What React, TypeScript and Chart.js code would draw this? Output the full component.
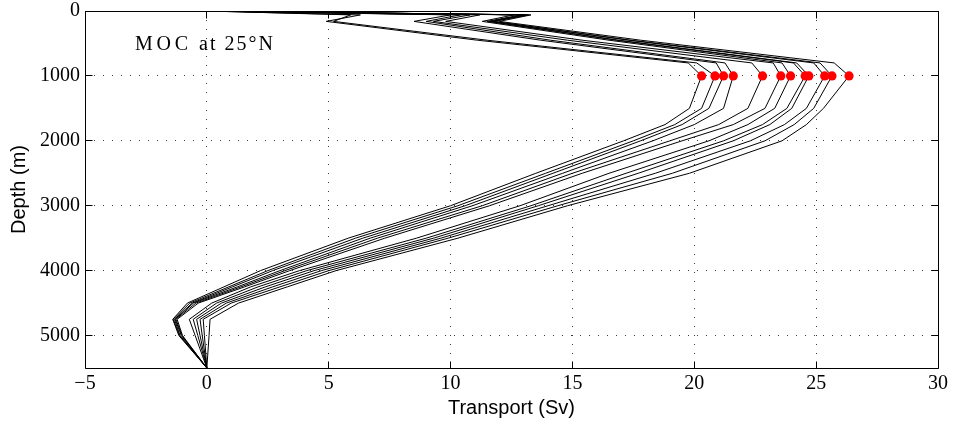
import { useEffect, useRef } from 'react';
import { Chart, registerables } from 'chart.js';

Chart.register(...registerables);

// Depth levels (m) shared by every profile
const DEPTHS = [0, 60, 160, 450, 800, 1000, 1500, 1750, 2000, 2500, 3000, 3500, 4000, 4250, 4500, 4750, 5000, 5500];

// Overturning transport (Sv) of each ensemble member at the depth levels above
const RUN_01 = [0, 6.3, 4.9, 11.1, 19.75, 20.3, 19.8, 18.8, 17.1, 13.5, 10.0, 5.8, 2.2, 0.7, -0.8, -1.4, -1.15, 0];
const RUN_02 = [0, 5.9, 5.2, 11.5, 20.1, 20.85, 20.3, 19.2, 17.5, 13.9, 10.3, 6.1, 2.5, 0.9, -0.7, -1.38, -1.12, 0];
const RUN_03 = [0, 10.0, 8.5, 13.7, 20.9, 21.2, 20.6, 19.5, 17.8, 14.2, 10.6, 6.4, 2.7, 1.05, -0.6, -1.33, -1.1, 0];
const RUN_04 = [0, 10.4, 9.0, 14.1, 21.26, 21.6, 21.2, 20.0, 18.3, 14.6, 10.9, 6.7, 3.0, 1.25, -0.55, -1.3, -1.05, 0];
const RUN_05 = [0, 10.8, 9.3, 14.8, 22.36, 22.8, 22.2, 21.0, 19.0, 15.0, 11.3, 7.0, 3.2, 1.4, -0.45, -1.27, -1.02, 0];
const RUN_06 = [0, 11.2, 9.8, 15.4, 23.24, 23.55, 22.9, 21.6, 19.5, 15.4, 11.6, 7.3, 3.4, 1.55, -0.35, -1.22, -1.0, 0];
const RUN_07 = [0, 12.6, 11.3, 16.5, 23.6, 23.95, 23.3, 22.2, 20.6, 16.5, 12.85, 8.6, 3.8, 1.8, 0.2, -0.72, -0.48, 0];
const RUN_08 = [0, 12.9, 11.5, 16.8, 24.07, 24.55, 23.8, 22.8, 21.2, 17.2, 13.3, 9.0, 4.1, 2.1, 0.4, -0.56, -0.37, 0];
const RUN_09 = [0, 13.0, 11.6, 16.9, 24.2, 24.7, 24.0, 23.1, 21.6, 17.7, 13.6, 9.3, 4.4, 2.4, 0.6, -0.42, -0.28, 0];
const RUN_10 = [0, 13.2, 11.8, 17.3, 24.9, 25.35, 24.6, 23.7, 22.3, 18.4, 14.0, 9.6, 4.7, 2.7, 0.8, -0.28, -0.19, 0];
const RUN_11 = [0, 13.1, 11.7, 17.4, 25.16, 25.65, 24.9, 24.1, 22.9, 19.1, 14.4, 9.9, 5.0, 3.0, 1.0, -0.15, -0.1, 0];
const RUN_12 = [0, 13.3, 12.0, 17.8, 25.74, 26.35, 25.3, 24.6, 23.6, 19.8, 14.8, 10.3, 5.3, 3.3, 1.3, 0.13, 0.09, 0];

const RUNS = [RUN_01, RUN_02, RUN_03, RUN_04, RUN_05, RUN_06, RUN_07, RUN_08, RUN_09, RUN_10, RUN_11, RUN_12];

// Depth at which the red markers are placed
const MARK_DEPTH = 1000;

const X_TICKS = [-5, 0, 5, 10, 15, 20, 25, 30];
const Y_TICKS = [0, 1000, 2000, 3000, 4000, 5000];
const X_MIN = -5;
const X_MAX = 30;
const Y_MIN = 0;
const Y_MAX = 5500;

const X_TITLE = 'Transport (Sv)';
const Y_TITLE = 'Depth (m)';
const ANNOTATION_WORDS = ['MOC', 'at 25°N'];

const SERIF = '"Liberation Serif", "Times New Roman", serif';
const SANS = '"Liberation Sans", Arial, sans-serif';

export default function App() {
  const ref = useRef<HTMLCanvasElement | null>(null);

  useEffect(() => {
    const canvas = ref.current;
    if (!canvas) return;
    const markIdx = DEPTHS.indexOf(MARK_DEPTH);

    const lineSets = RUNS.map((run) => ({
      data: run.map((v, i) => ({ x: v, y: DEPTHS[i] })),
      showLine: true,
      borderColor: '#000000',
      borderWidth: 1,
      pointRadius: 0,
      pointHoverRadius: 0,
      fill: false,
      tension: 0,
    }));

    const markSet = {
      data: RUNS.map((run) => ({ x: run[markIdx], y: MARK_DEPTH })),
      showLine: false,
      pointRadius: 4.6,
      pointHoverRadius: 4.6,
      backgroundColor: '#ff0000',
      borderColor: '#ff0000',
      borderWidth: 0,
    };

    const align = (p: number) => Math.round(p - 0.5) + 0.5;

    const framePlugin = {
      id: 'matlabFrame',
      afterDraw(chart: any) {
        const { ctx, chartArea, scales } = chart;
        const L = align(chartArea.left);
        const R = align(chartArea.right);
        const T = align(chartArea.top);
        const B = align(chartArea.bottom);
        ctx.save();
        ctx.strokeStyle = '#000000';
        ctx.lineWidth = 1;
        ctx.setLineDash([]);
        ctx.beginPath();
        ctx.rect(L, T, R - L, B - T);
        const tl = 7;
        X_TICKS.forEach((v) => {
          const px = align(scales.x.getPixelForValue(v));
          ctx.moveTo(px, B);
          ctx.lineTo(px, B - tl);
          ctx.moveTo(px, T);
          ctx.lineTo(px, T + tl);
        });
        Y_TICKS.forEach((v) => {
          const py = align(scales.y.getPixelForValue(v));
          ctx.moveTo(L, py);
          ctx.lineTo(L + tl, py);
          ctx.moveTo(R, py);
          ctx.lineTo(R - tl, py);
        });
        ctx.stroke();

        // annotation, fitted to the extents of each word group
        ctx.font = `20px ${SERIF}`;
        ctx.fillStyle = '#000000';
        ctx.textBaseline = 'alphabetic';
        ctx.textAlign = 'left';
        const spans = [
          [135, 188],
          [199, 273],
        ];
        ANNOTATION_WORDS.forEach((word, k) => {
          const [x0, x1] = spans[k];
          (ctx as any).letterSpacing = '0px';
          const w0 = ctx.measureText(word).width;
          const sp = Math.max(0, (x1 - x0 - w0) / Math.max(1, word.length - 1));
          (ctx as any).letterSpacing = `${sp}px`;
          ctx.fillText(word, x0, 50);
        });
        (ctx as any).letterSpacing = '0px';
        ctx.restore();
      },
    };

    const xTickFont = { family: SERIF, size: 20, lineHeight: 1 };
    const yTickFont = { family: SERIF, size: 20, lineHeight: 0.6 };
    const titleFont = { family: SANS, size: 20, lineHeight: 1.2 };

    const chart = new Chart(canvas, {
      type: 'scatter',
      data: { datasets: [markSet, ...lineSets] as any },
      options: {
        animation: false,
        responsive: true,
        maintainAspectRatio: false,
        events: [],
        layout: { padding: { top: 11, right: 16, left: 0, bottom: 0 } },
        plugins: {
          legend: { display: false },
          tooltip: { enabled: false },
          title: { display: false },
        },
        scales: {
          x: {
            type: 'linear',
            min: X_MIN,
            max: X_MAX,
            afterBuildTicks: (s: any) => {
              s.ticks = X_TICKS.map((v) => ({ value: v }));
            },
            afterFit: (s: any) => {
              s.height = 58;
            },
            ticks: {
              color: '#000000',
              font: xTickFont,
              padding: 6,
              autoSkip: false,
              maxRotation: 0,
              callback: (v: any) => String(v).replace('-', '\u2212'),
            },
            grid: { color: '#3a3a3a', lineWidth: 1, drawTicks: false },
            border: { display: false, dash: [1, 8] },
            title: {
              display: true,
              text: X_TITLE,
              color: '#000000',
              font: titleFont,
              padding: { top: 0, bottom: 6 },
            },
          },
          y: {
            type: 'linear',
            min: Y_MIN,
            max: Y_MAX,
            reverse: true,
            afterBuildTicks: (s: any) => {
              s.ticks = Y_TICKS.map((v) => ({ value: v }));
            },
            afterFit: (s: any) => {
              s.width = 85;
            },
            ticks: {
              color: '#000000',
              font: yTickFont,
              padding: 5,
              autoSkip: false,
              callback: (v: any) => String(v),
            },
            grid: { color: '#3a3a3a', lineWidth: 1, drawTicks: false },
            border: { display: false, dash: [1, 8] },
            title: {
              display: true,
              text: Y_TITLE,
              color: '#000000',
              font: titleFont,
              padding: { top: 7, bottom: 0 },
            },
          },
        },
      } as any,
      plugins: [framePlugin],
    });

    return () => {
      chart.destroy();
    };
  }, []);

  return (
    <div style={{ position: 'fixed', left: 0, top: 0, width: 954, height: 426, background: '#ffffff' }}>
      <canvas ref={ref} style={{ display: 'block' }} />
    </div>
  );
}
